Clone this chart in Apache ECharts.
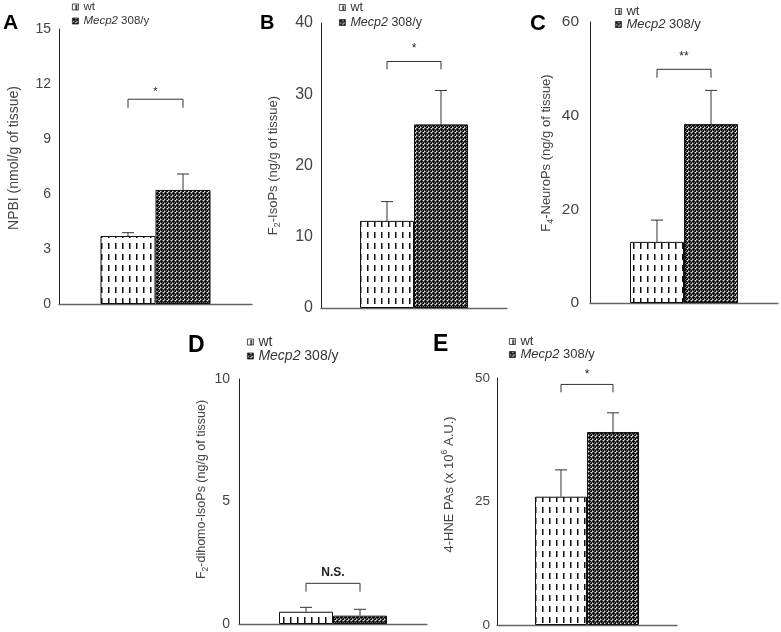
<!DOCTYPE html>
<html>
<head>
<meta charset="utf-8">
<script src="https://cdn.jsdelivr.net/npm/echarts@6/dist/echarts.min.js"></script>
<style>
html,body{margin:0;padding:0;background:#fff;}
#chart{width:781px;height:632px;}
</style>
</head>
<body>
<div id="chart"></div>
<script>
// ---------- data ----------
const categories = ['wt', 'Mecp2 308/y'];
const panelLabels = ['A', 'B', 'C', 'D', 'E'];
const yTitles = [
  'NPBI (nmol/g of tissue)',
  'F{s|2}-IsoPs (ng/g of tissue)',
  'F{s|4}-NeuroPs (ng/g of tissue)',
  'F{s|2}-dihomo-IsoPs (ng/g of tissue)',
  '4-HNE PAs (x 10{p|6} A.U.)'
];
const yMax = [15, 40, 60, 10, 50];
const yInterval = [3, 10, 20, 5, 25];
const wtMean = [3.71, 12.23, 13.05, 0.50, 25.97];
const wtErr = [0.18, 2.70, 4.65, 0.18, 5.43];
const mutMean = [6.22, 25.77, 38.2, 0.34, 39.07];
const mutErr = [0.87, 4.76, 7.2, 0.26, 3.88];
const sigLabels = ['*', '*', '**', 'N.S.', '*'];
const bracketTop = [11.17, 34.6, 49.9, 1.66, 48.7];
const bracketBottom = [10.7, 33.5, 48.1, 1.32, 47.1];

// ---------- layout / style ----------
const FONT = '"Liberation Sans", Arial, Helvetica, sans-serif';
const grids = [
  {left: 59, top: 29, width: 193, height: 275},
  {left: 321, top: 23, width: 186, height: 285},
  {left: 590, top: 22, width: 188, height: 281},
  {left: 239, top: 379, width: 188, height: 245},
  {left: 497, top: 378, width: 180, height: 250}
];
const barW = [55, 54, 54, 54, 52];
const tickFont = [14, 16, 15.5, 14, 13.5];
const tickMargin = [8, 8, 11, 9, 7];
const nameFont = [14, 13, 13, 12.5, 13];
const nameGap = [36, 39, 35, 22, 39];
const nameShift = [17, 0, 19, 24, 34];
const legendPos = [
  {left: 72, top: 0, fs: 11.5, lh: 14},
  {left: 339, top: 0, fs: 12.5, lh: 15},
  {left: 615, top: 5, fs: 13, lh: 12},
  {left: 247, top: 335, fs: 14, lh: 11.5},
  {left: 509, top: 335, fs: 13, lh: 11.5}
];
const letterPos = [
  {left: 3, top: 13, fs: 21},
  {left: 260, top: 13, fs: 20},
  {left: 530, top: 13, fs: 22},
  {left: 188, top: 334, fs: 23},
  {left: 433, top: 333, fs: 23}
];
const starFont = [11, 12, 12, 12, 12];
const starLift = [2, 7, 7, 5, 4];

function wtPattern() {
  const c = document.createElement('canvas');
  c.width = 7; c.height = 11;
  const g = c.getContext('2d');
  g.fillStyle = '#ffffff'; g.fillRect(0, 0, 7, 11);
  g.fillStyle = '#111111'; g.fillRect(3, 1, 1, 6);
  g.fillStyle = '#888888'; g.fillRect(4, 1, 1, 6);
  return c;
}
function mutPattern() {
  const c = document.createElement('canvas');
  c.width = 4; c.height = 4;
  const g = c.getContext('2d');
  g.fillStyle = '#777777'; g.fillRect(0, 0, 4, 4);
  g.fillStyle = '#0a0a0a';
  g.fillRect(1, 0, 1, 3); g.fillRect(0, 1, 3, 1);
  g.fillRect(3, 2, 1, 1); g.fillRect(3, 3, 1, 1); g.fillRect(2, 3, 1, 1);
  g.fillStyle = '#e0e0e0';
  g.fillRect(3, 0, 1, 1); g.fillRect(0, 3, 1, 1);
  return c;
}
const wtFill = {image: wtPattern(), repeat: 'repeat'};
const mutFill = {image: mutPattern(), repeat: 'repeat'};

const option = {
  animation: false,
  backgroundColor: '#ffffff',
  textStyle: {fontFamily: FONT},
  title: [], legend: [], grid: [], xAxis: [], yAxis: [], series: []
};

for (let i = 0; i < 5; i++) {
  option.title.push({
    text: panelLabels[i], left: letterPos[i].left, top: letterPos[i].top, padding: 0,
    textStyle: {fontSize: letterPos[i].fs, fontWeight: 'bold', color: '#000', fontFamily: FONT}
  });
  const lp = legendPos[i];
  option.legend.push({
    data: categories, orient: 'vertical', left: lp.left, top: lp.top, padding: 0,
    itemWidth: 6, itemHeight: 6, itemGap: 0, icon: 'rect', selectedMode: false,
    itemStyle: {borderColor: '#222', borderWidth: 0.8},
    formatter: n => n === 'wt' ? 'wt' : '{i|Mecp2} 308/y',
    textStyle: {fontSize: lp.fs, lineHeight: lp.lh, color: '#333', fontFamily: FONT,
      rich: {i: {fontStyle: 'italic', fontSize: lp.fs, lineHeight: lp.lh, color: '#333', fontFamily: FONT}}}
  });
  option.grid.push(Object.assign({containLabel: false}, grids[i]));
  option.xAxis.push({
    type: 'category', gridIndex: i, data: [''],
    axisLine: {show: true, lineStyle: {color: '#666', width: 1.3}},
    axisTick: {show: false}, axisLabel: {show: false}, splitLine: {show: false}
  });
  option.yAxis.push({
    type: 'value', gridIndex: i, min: 0, max: yMax[i], interval: yInterval[i],
    name: yTitles[i], nameLocation: 'middle', nameRotate: 90, nameGap: nameGap[i],
    nameTextStyle: {fontSize: nameFont[i], color: '#444', fontFamily: FONT, lineHeight: 18,
      padding: [0, 0, 0, nameShift[i]],
      rich: {
        s: {fontSize: nameFont[i] * 0.68, lineHeight: 10, verticalAlign: 'bottom', color: '#444', fontFamily: FONT},
        p: {fontSize: nameFont[i] * 0.68, lineHeight: 10, verticalAlign: 'top', color: '#444', fontFamily: FONT}
      }},
    axisLine: {show: true, lineStyle: {color: '#222', width: 1}},
    axisTick: {show: false},
    axisLabel: {fontSize: tickFont[i], color: '#444', margin: tickMargin[i], fontFamily: FONT},
    splitLine: {show: false}
  });
  option.series.push({
    name: categories[0], type: 'bar', xAxisIndex: i, yAxisIndex: i,
    data: [wtMean[i]], barWidth: barW[i], barGap: '0%',
    itemStyle: {color: wtFill, borderColor: '#111', borderWidth: 1}
  });
  option.series.push({
    name: categories[1], type: 'bar', xAxisIndex: i, yAxisIndex: i,
    data: [mutMean[i]], barWidth: barW[i], barGap: '0%',
    itemStyle: {color: mutFill, borderColor: '#111', borderWidth: 1}
  });
  const bw = barW[i];
  option.series.push({
    type: 'custom', xAxisIndex: i, yAxisIndex: i, silent: true,
    data: [[0, wtMean[i], wtMean[i] + wtErr[i], -1], [0, mutMean[i], mutMean[i] + mutErr[i], 1]],
    renderItem: function (params, api) {
      const side = api.value(3);
      const b = api.coord([api.value(0), api.value(1)]);
      const t = api.coord([api.value(0), api.value(2)]);
      const x = b[0] + side * bw / 2;
      return {
        type: 'group', children: [
          {type: 'line', shape: {x1: x, y1: b[1], x2: x, y2: t[1]}, style: {stroke: '#333', lineWidth: 1}},
          {type: 'line', shape: {x1: x - 6, y1: t[1], x2: x + 6, y2: t[1]}, style: {stroke: '#333', lineWidth: 1}}
        ]
      };
    }
  });
  const lbl = sigLabels[i];
  const sf = starFont[i];
  const lift = starLift[i];
  option.series.push({
    type: 'custom', xAxisIndex: i, yAxisIndex: i, silent: true,
    data: [[0, bracketTop[i], bracketBottom[i]]],
    renderItem: function (params, api) {
      const t = api.coord([api.value(0), api.value(1)]);
      const b = api.coord([api.value(0), api.value(2)]);
      const x1 = t[0] - bw / 2, x2 = t[0] + bw / 2;
      return {
        type: 'group', children: [
          {type: 'polyline', shape: {points: [[x1, b[1]], [x1, t[1]], [x2, t[1]], [x2, b[1]]]},
            style: {stroke: '#333', lineWidth: 1, fill: null}},
          {type: 'text', x: t[0], y: t[1] - lift,
            style: {text: lbl, fontSize: sf, fontWeight: lbl === 'N.S.' ? 'bold' : 'normal',
              fontFamily: FONT, fill: '#222', align: 'center', verticalAlign: 'bottom'}}
        ]
      };
    }
  });
}

const chart = echarts.init(document.getElementById('chart'), null, {renderer: 'canvas'});
chart.setOption(option);
</script>
</body>
</html>
